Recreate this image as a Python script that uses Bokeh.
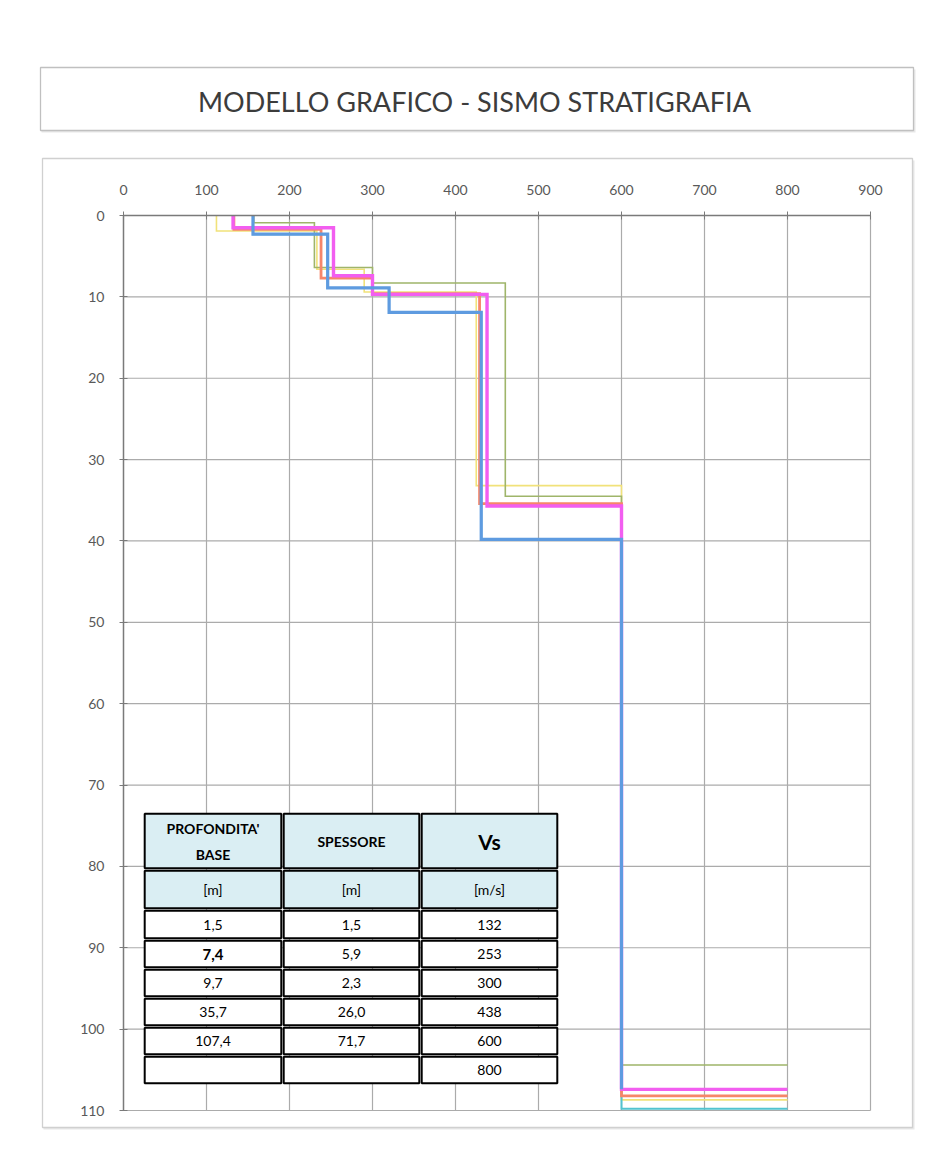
from bokeh.plotting import figure
from bokeh.models import Range1d, FixedTicker, ColumnDataSource
from bokeh.embed import file_html
from bokeh.resources import INLINE
from bokeh.core.properties import value

# ---------------- data ----------------
x_ticks = [0, 100, 200, 300, 400, 500, 600, 700, 800, 900]
y_ticks = [0, 10, 20, 30, 40, 50, 60, 70, 80, 90, 100, 110]

# layer velocities (m/s) and layer base depths (m); last layer has no base
yellow_vs = [112, 233, 290, 425, 600, 800]
yellow_base = [1.9, 6.6, 9.4, 33.2, 108.7]
green_vs = [157, 230, 300, 460, 600, 800]
green_base = [0.9, 6.4, 8.3, 34.5, 104.4]
orange_vs = [133, 238, 300, 429, 600, 800]
orange_base = [1.7, 7.7, 9.6, 35.4, 108.2]
cyan_vs = [156, 246, 320, 431, 600, 800]
cyan_base = [2.3, 8.9, 11.9, 39.8, 109.8]
mag_vs = [132, 253, 300, 438, 600, 800]
mag_base = [1.5, 7.4, 9.7, 35.7, 107.4]
blue_vs = [156, 246, 320, 431, 600]
blue_base = [2.3, 8.9, 11.9, 39.8, 107.4]

title_text = "MODELLO GRAFICO - SISMO STRATIGRAFIA"
table_headers = ["PROFONDITA'\nBASE", "SPESSORE", "Vs"]
table_units = ["[m]", "[m]", "[m/s]"]
table_depth = ["1,5", "7,4", "9,7", "35,7", "107,4", ""]
table_thick = ["1,5", "5,9", "2,3", "26,0", "71,7", ""]
table_vs = ["132", "253", "300", "438", "600", "800"]

# ---------------- layout (page pixels) ----------------
W, H = 925, 1145
FL, FT, FR, FB = 36, 62, 917, 1131          # frame edges
PX0, PY0 = 123, 215                          # pixel of value 0 / depth 0
PXU = 747 / 900                              # px per m/s
PYU = 895 / 110                              # px per m
XMAX, YMAX = x_ticks[-1], y_ticks[-1]


def dx(px):
    return (px - PX0) / PXU


def dy(py):
    return (py - PY0) / PYU


p = figure(width=W, height=H,
           x_range=Range1d(dx(FL), dx(FR)), y_range=Range1d(dy(FB), dy(FT)),
           x_axis_location="above", output_backend="svg", toolbar_location=None,
           min_border_left=FL, min_border_top=FT,
           min_border_right=W - FR, min_border_bottom=H - FB)
p.background_fill_color = "white"
p.border_fill_color = "white"
p.outline_line_color = None
p.xgrid.visible = False
p.ygrid.visible = False

# chart & title boxes (with soft shadow)
p.quad(left=[dx(43), dx(41)], right=[dx(914), dx(915)], top=[dy(160), dy(69)],
       bottom=[dy(1129), dy(132)], fill_color="#e8e8e8", line_color=None)
p.quad(left=[dx(42), dx(40)], right=[dx(912), dx(913)], top=[dy(158), dy(67)],
       bottom=[dy(1127), dy(130)], fill_color="white", line_color=["#d0d0d0", "#c0c0c0"],
       line_width=1.3)
p.text(x=[dx(474)], y=[dy(101)], text=[title_text], text_align="center", text_baseline="middle",
       text_font=value("Lato"), text_font_size="27px", text_color="#3c3c3c")

# grid lines from the tick lists
p.segment(x0=x_ticks, x1=x_ticks, y0=[0] * len(x_ticks), y1=[YMAX] * len(x_ticks),
          line_color="#ababab", line_width=1.2)
p.segment(x0=[0] * len(y_ticks), x1=[XMAX] * len(y_ticks), y0=y_ticks, y1=y_ticks,
          line_color="#ababab", line_width=1.2)

# axes fixed at value 0 / depth 0
p.xaxis.fixed_location = 0
p.yaxis.fixed_location = 0
p.xaxis.bounds = (0, XMAX)
p.yaxis.bounds = (0, YMAX)
for ax, ticks in ((p.xaxis, x_ticks), (p.yaxis, y_ticks)):
    ax.ticker = FixedTicker(ticks=ticks)
    ax.axis_line_color = "#7a7a7a"
    ax.axis_line_width = 1.4
    ax.major_tick_line_color = "#7a7a7a"
    ax.major_tick_in = 4
    ax.major_tick_out = 4
    ax.minor_tick_line_color = None
    ax.major_label_text_font = "Lato"
    ax.major_label_text_font_size = "14px"
    ax.major_label_text_color = "#595959"
p.xaxis.major_label_standoff = 17
p.yaxis.major_label_standoff = 15


def profile(vs, base):
    """Step path: vertical at each velocity down to the layer base,
    then horizontal at that base to the next layer's velocity."""
    xs, ys = [], []
    top = 0
    for i, v in enumerate(vs):
        xs.append(v); ys.append(top)
        if i < len(base):
            xs.append(v); ys.append(base[i])
            top = base[i]
    return xs, ys


series = [
    (yellow_vs, yellow_base, "#f1e27a", 1.6),
    (green_vs, green_base, "#9fb56a", 1.6),
    (cyan_vs, cyan_base, "#52c3cf", 2.0),
    (orange_vs, orange_base, "#f6866a", 2.8),
    (mag_vs, mag_base, "#f25ef0", 3.4),
    (blue_vs, blue_base, "#5e9be0", 3.2),
]
for vs, base, col, lw in series:
    xs, ys = profile(vs, base)
    p.line(xs, ys, line_color=col, line_width=lw, line_join="miter")

# ---------------- table (overlay) ----------------
col_edges = [143, 282, 420, 558]
row_edges = [812, 869, 909, 939, 968, 997, 1026, 1055, 1084]
g = 1.2
cl, cr, ct, cb, cf = [], [], [], [], []
for r in range(len(row_edges) - 1):
    for c in range(3):
        cl.append(dx(col_edges[c] + g)); cr.append(dx(col_edges[c + 1] - g))
        ct.append(dy(row_edges[r] + g)); cb.append(dy(row_edges[r + 1] - g))
        cf.append("#daeef3" if r < 2 else "white")
p.quad(left=cl, right=cr, top=ct, bottom=cb, fill_color=cf, line_color="black", line_width=2)

tx, ty, tt, tsz, tw = [], [], [], [], []
mids = [(col_edges[i] + col_edges[i + 1]) / 2 for i in range(3)]
hdr_mid = (row_edges[0] + row_edges[1]) / 2
for i, h in enumerate(table_headers):
    lines = h.split("\n")
    n = len(lines)
    for k, ln in enumerate(lines):
        tx.append(dx(mids[i])); ty.append(dy(hdr_mid + (k - (n - 1) / 2) * 26))
        tt.append(ln); tsz.append("21px" if ln == "Vs" else "14px"); tw.append("bold")
unit_mid = (row_edges[1] + row_edges[2]) / 2
for i, u in enumerate(table_units):
    tx.append(dx(mids[i])); ty.append(dy(unit_mid)); tt.append(u); tsz.append("14px"); tw.append("normal")
for r, vals in enumerate(zip(table_depth, table_thick, table_vs)):
    m = (row_edges[r + 2] + row_edges[r + 3]) / 2
    for i, v in enumerate(vals):
        if v:
            bold = (r == 1 and i == 0)
            tx.append(dx(mids[i])); ty.append(dy(m)); tt.append(v)
            tsz.append("15px" if bold else "14px"); tw.append("bold" if bold else "normal")
src = ColumnDataSource(dict(x=tx, y=ty, text=tt, size=tsz, weight=tw))
p.text(x="x", y="y", text="text", source=src, text_align="center", text_baseline="middle",
       text_font=value("Lato"), text_font_size="size", text_font_style="weight", text_color="black")

open("out.html", "w").write(file_html(p, INLINE))
